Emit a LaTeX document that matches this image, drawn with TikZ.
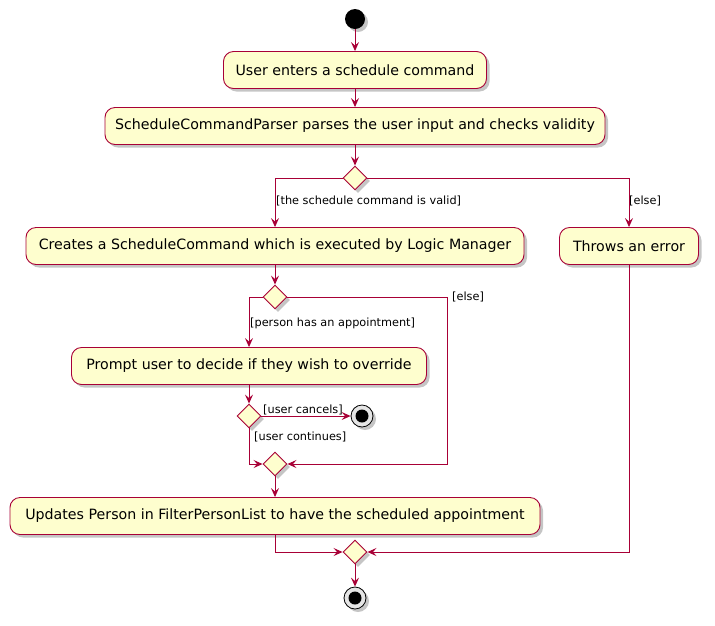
\documentclass[tikz,border=0pt]{standalone}
\usepackage{fontspec}
\setmainfont{DejaVu Sans}
\usetikzlibrary{shapes.geometric,arrows.meta,shadows}
\definecolor{umlred}{HTML}{A80036}
\definecolor{umlfill}{HTML}{FEFECE}
\tikzset{
  umlshadow/.style={drop shadow={shadow xshift=3pt,shadow yshift=-3pt,fill=black!45,opacity=.5}},
  act/.style={draw=umlred, fill=umlfill, rounded corners=10pt, line width=0.9pt,
    minimum height=37pt, inner xsep=6pt, font=\fontsize{14.2}{16}\selectfont, umlshadow},
  choice/.style={diamond, draw=umlred, fill=umlfill, line width=0.9pt,
    minimum width=24pt, minimum height=24pt, inner sep=0pt, umlshadow},
  startdot/.style={circle, fill=black, minimum size=20pt, inner sep=0pt, umlshadow},
  stopdot/.style={circle, draw=black, fill=black!10, line width=0.8pt, minimum size=22pt, inner sep=0pt,
    path picture={\fill[black] (path picture bounding box.center) circle (6.5pt);}, umlshadow},
  flow/.style={draw=umlred, line width=0.9pt, -{Stealth[length=9pt,width=8pt,inset=3.5pt]}},
  guard/.style={font=\fontsize{11.3}{13}\selectfont, inner sep=1pt, anchor=west},
}
\begin{document}
\begin{tikzpicture}[x=1pt,y=-1pt]
  \useasboundingbox (0,0) rectangle (715,625);
  % activities
  \node[startdot] (start) at (355,19) {};
  \node[act, minimum width=263pt] (enter) at (355,70) {User enters a schedule command};
  \node[act, minimum width=500pt] (parse) at (355,126) {ScheduleCommandParser parses the user input and checks validity};
  \node[choice] (valid) at (355,178) {};
  \node[act, minimum width=498pt] (create) at (275,246) {Creates a ScheduleCommand which is executed by Logic Manager};
  \node[act, minimum width=139pt] (error) at (629,246) {Throws an error};
  \node[choice] (appt) at (275,297) {};
  \node[act, minimum width=355pt] (prompt) at (249,366) {Prompt user to decide if they wish to override};
  \node[choice] (decide) at (249,416) {};
  \node[stopdot] (cancel) at (362,416) {};
  \node[choice] (merge) at (275,464) {};
  \node[act, minimum width=530pt] (update) at (275,516) {Updates Person in FilterPersonList to have the scheduled appointment};
  \node[choice] (join) at (355,552) {};
  \node[stopdot] (stop) at (355,598) {};
  \coordinate (elsecorner) at (447,297);
  % guards
  \node[guard] (gvalid) at (275,201) {[the schedule command is valid]};
  \node[guard] (gelse) at (628,201) {[else]};
  \node[guard] (gappt) at (249,323) {[person has an appointment]};
  \node[guard] (gnone) at (451,297) {[else]};
  \node[guard] (gcancel) at (262,410) {[user cancels]};
  \node[guard] (gcont) at (253,437) {[user continues]};
  % flows
  \draw[flow] (start) -- (enter);
  \draw[flow] (enter) -- (parse);
  \draw[flow] (parse) -- (valid);
  \draw[flow] (valid.west) -| (create.north);
  \draw[flow] (valid.east) -| (error.north);
  \draw[flow] (create) -- (appt);
  \draw[flow] (appt.west) -| (prompt.north);
  \draw[flow] (appt.east) -- (elsecorner) |- (merge.east);
  \draw[flow] (prompt.south -| decide) -- (decide);
  \draw[flow] (decide.east) -- (cancel);
  \draw[flow] (decide.south) |- (merge.west);
  \draw[flow] (merge) -- (update);
  \draw[flow] (update.south) |- (join.west);
  \draw[flow] (error.south) |- (join.east);
  \draw[flow] (join) -- (stop);
\end{tikzpicture}
\end{document}
